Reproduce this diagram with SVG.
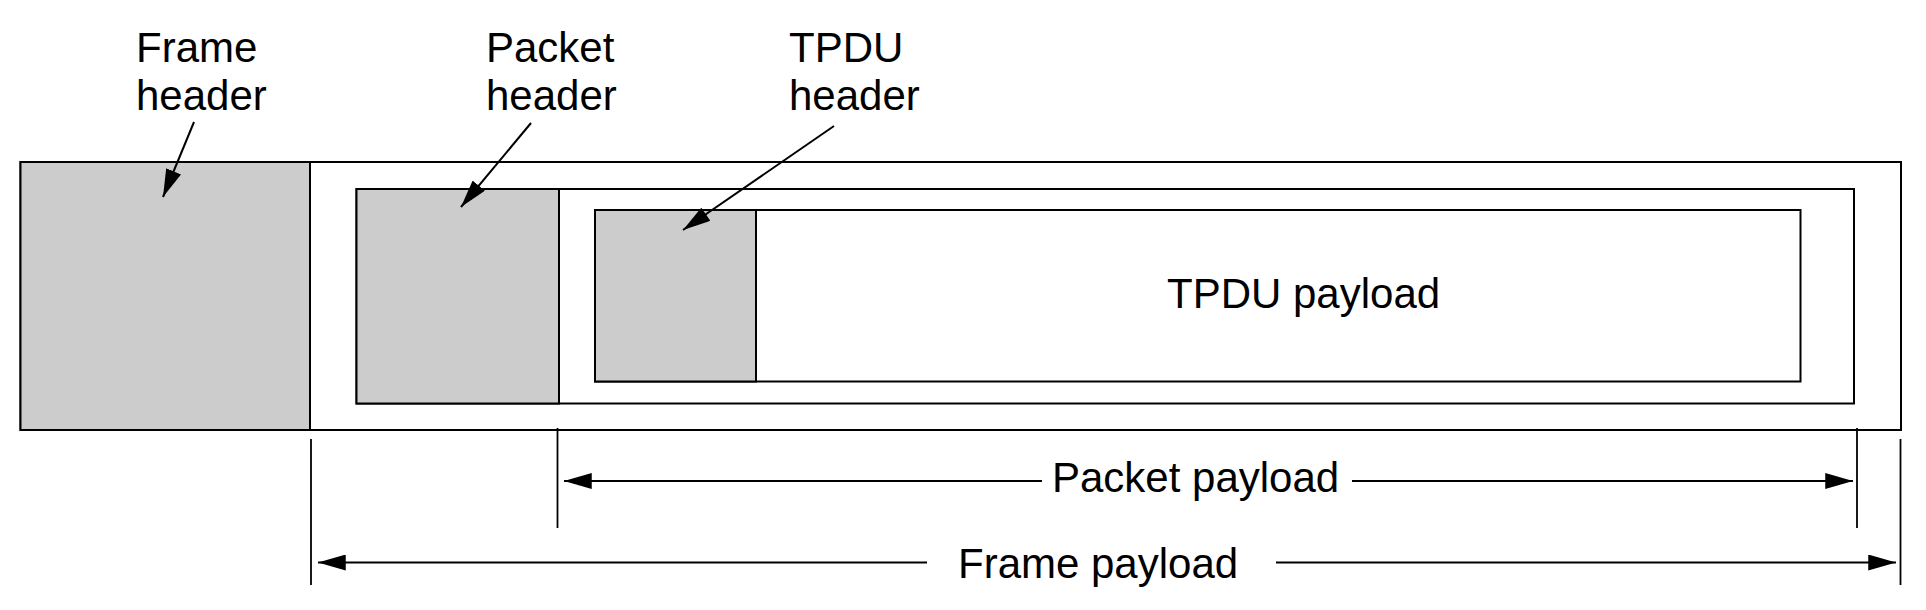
<svg xmlns="http://www.w3.org/2000/svg" width="1926" height="610" viewBox="0 0 1926 610">
<defs>
<style>
.box{fill:#fff;stroke:#000;stroke-width:2}
.hdr{fill:#cccccc;stroke:#000;stroke-width:2}
.ln{fill:none;stroke:#000;stroke-width:2}
.tick{fill:none;stroke:#000;stroke-width:1.8}
text{font-family:"Liberation Sans",Arial,Helvetica,sans-serif;font-size:42px;fill:#000}
</style>
<marker id="ah" markerUnits="userSpaceOnUse" markerWidth="28" markerHeight="16" viewBox="0 0 26 15" refX="26" refY="7.5" orient="auto">
<path d="M0,0 L26,7.5 L0,15 z" fill="#000"/>
</marker>
</defs>
<rect width="1926" height="610" fill="#fff"/>
<g id="frame">
<rect class="box" x="20.5" y="162" width="1880.5" height="268"/>
<rect class="hdr" x="20.5" y="162" width="289.5" height="268"/>
</g>
<g id="packet">
<rect class="box" x="356.5" y="189" width="1497.5" height="214.5"/>
<rect class="hdr" x="356.5" y="189" width="202.5" height="214.5"/>
</g>
<g id="tpdu">
<rect class="box" x="595" y="210" width="1205.5" height="171.5" stroke-width="2.5"/>
<rect class="hdr" x="595" y="210" width="161" height="171.5" stroke-width="2.5"/>
<text x="1167" y="308">TPDU payload</text>
</g>
<g id="labels">
<text x="136" y="62">Frame</text>
<text x="136" y="110">header</text>
<text x="486" y="62">Packet</text>
<text x="486" y="110">header</text>
<text x="789" y="62">TPDU</text>
<text x="789" y="110">header</text>
<text x="1052" y="492">Packet payload</text>
<text x="958" y="578">Frame payload</text>
</g>
<g id="connectors">
<line class="ln" x1="194" y1="122" x2="163" y2="197" marker-end="url(#ah)"/>
<line class="ln" x1="531" y1="123" x2="461" y2="207" marker-end="url(#ah)"/>
<line class="ln" x1="834" y1="126" x2="683" y2="230" marker-end="url(#ah)"/>
<line class="tick" x1="311" y1="439" x2="311" y2="585"/>
<line class="tick" x1="557.5" y1="428" x2="557.5" y2="528"/>
<line class="tick" x1="1857" y1="428" x2="1857" y2="528"/>
<line class="tick" x1="1900.5" y1="439" x2="1900.5" y2="585"/>
<line class="ln" x1="1042" y1="481" x2="564" y2="481" marker-end="url(#ah)"/>
<line class="ln" x1="1352" y1="481" x2="1853" y2="481" marker-end="url(#ah)"/>
<line class="ln" x1="927" y1="562.5" x2="318" y2="562.5" marker-end="url(#ah)"/>
<line class="ln" x1="1276" y1="562.5" x2="1896" y2="562.5" marker-end="url(#ah)"/>
</g>
</svg>
